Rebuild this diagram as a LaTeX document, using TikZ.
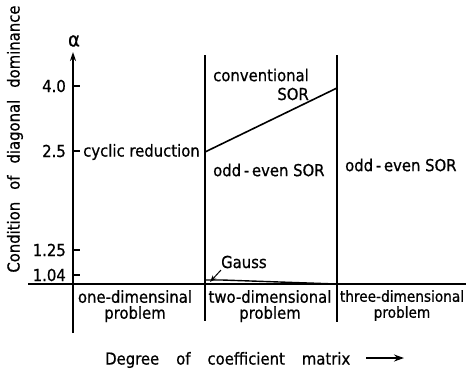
\documentclass[tikz,border=0pt]{standalone}
\usepackage{fontspec}
\setmainfont[BoldFont={DejaVu Sans Condensed},BoldFeatures={FakeBold=0.7}]{DejaVu Sans Condensed}
\usetikzlibrary{arrows.meta}
\begin{document}
\begin{tikzpicture}[x=1pt,y=-1pt,
  ln/.style={line width=1.6pt},
  lbl/.style={inner sep=0pt,font=\fontsize{16.5}{17}\selectfont\bfseries},
  tk/.style={line width=1.4pt}]
\useasboundingbox (0,0) rectangle (466,373);
% axes
\coordinate (ytop) at (73,52);
\coordinate (ybot) at (73,333);
\coordinate (xl) at (28,284);
\coordinate (xr) at (466,284);
\draw[ln,-{Stealth[length=9pt,width=6pt]}] (ybot) -- (ytop);
\draw[ln] (xl) -- (xr);
\node[inner sep=0pt,font=\fontsize{20}{20}\selectfont\bfseries] (alpha) at (74,41) {α};
% dividers
\coordinate (m1) at (205,55);
\coordinate (m2) at (205,321);
\coordinate (r1) at (337,55);
\coordinate (r2) at (337,322);
\draw[ln] (m1) -- (m2);
\draw[ln] (r1) -- (r2);
% ticks
\foreach \yy/\t/\n in {86/4.0/a,151/2.5/b,250/1.25/c,275/1.04/d}{
  \draw[tk] (73,\yy) -- (80,\yy);
  \node[lbl,anchor=east] (tick\n) at (66,\yy) {\t};
}
% lines
\coordinate (s1) at (205,152);
\coordinate (s2) at (337,88);
\draw[ln] (s1) -- (s2);
\coordinate (g1) at (205,280);
\coordinate (g2) at (222,280);
\coordinate (g3) at (337,284);
\draw[tk] (g1) -- (g2) -- (g3);
% labels
\node[lbl,anchor=west] (cyc) at (83,152) {cyclic reduction};
\node[lbl,anchor=west] (conv) at (213,75) {conventional};
\node[lbl,anchor=east] (sor) at (309,94) {SOR};
\node[lbl,anchor=west] (oe1) at (213,170) {odd\,-\,even SOR};
\node[lbl,anchor=west] (oe2) at (345,165) {odd\,-\,even SOR};
\node[lbl,anchor=west] (gauss) at (221,262) {Gauss};
\coordinate (gtail) at (221,270);
\coordinate (gtip) at (210,282);
\draw[line width=1pt,-{Stealth[length=7pt,width=5pt]}] (gtail) -- (gtip);
\node[lbl,align=center,anchor=north] (p1) at (135,290) {one-dimensinal\\[-1pt]problem};
\node[lbl,align=center,anchor=north] (p2) at (270,290) {two-dimensional\\[-1pt]problem};
\node[lbl,align=center,anchor=north,font=\fontsize{15.2}{17}\selectfont\bfseries] (p3) at (402,290) {three-dimensional\\[-1pt]problem};
\node[lbl,anchor=west] (deg) at (105,360) {Degree\hspace{17pt}of\hspace{17pt}coefficient\hspace{17pt}matrix};
\coordinate (a1) at (366,358);
\coordinate (a2) at (404,358);
\draw[line width=1.8pt,-{Stealth[length=10pt,width=7pt]}] (a1) -- (a2);
\node[lbl,rotate=90] (ylab) at (15,139) {Condition\hspace{12pt}of\hspace{12pt}diagonal\hspace{12pt}dominance};
\end{tikzpicture}
\end{document}
